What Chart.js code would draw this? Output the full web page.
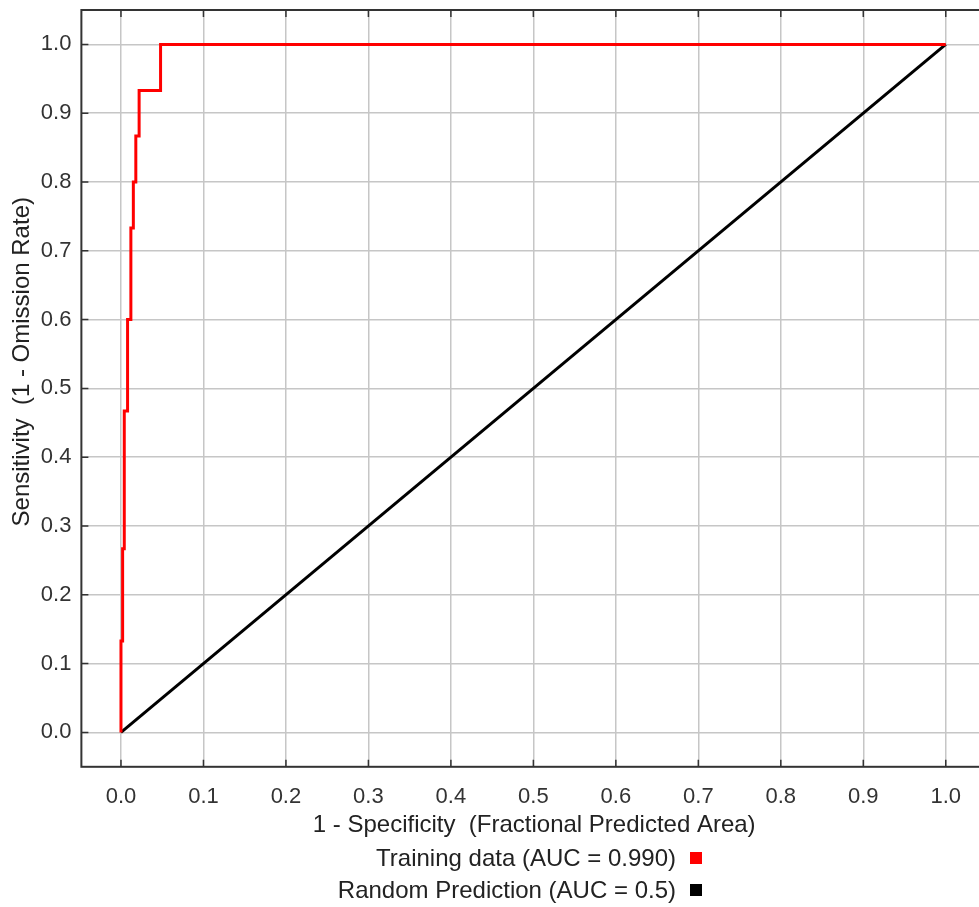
<!DOCTYPE html>
<html>
<head>
<meta charset="utf-8">
<script src="https://cdn.jsdelivr.net/npm/chart.js@4.4.1/dist/chart.umd.min.js"></script>
<style>
  html, body { margin: 0; padding: 0; background: #fff; overflow: hidden; }
  #wrap { position: relative; width: 990px; height: 907px; }
  #legend {
    position: absolute; right: 288px; top: 842px;
    font-family: "Liberation Sans", Arial, sans-serif; font-size: 24px; color: #222;
  }
  .row { display: flex; justify-content: flex-end; align-items: center; height: 32px; }
  .box { width: 12px; height: 12px; margin-left: 14px; }
</style>
</head>
<body>
<div id="wrap">
  <canvas id="roc" width="990" height="907"></canvas>
  <div id="legend"></div>
</div>
<script>
// Curva ROC del modelo (pasos) y referencia aleatoria
const fprTrain = [0, 0, 0.002, 0.004, 0.008, 0.012, 0.015, 0.018, 0.022, 0.048, 1];
const tprTrain = [0, 0.133, 0.267, 0.467, 0.6, 0.733, 0.8, 0.867, 0.933, 1, 1];
const fprRandom = [0, 1];
const tprRandom = [0, 1];

const xTicks = [0, 0.1, 0.2, 0.3, 0.4, 0.5, 0.6, 0.7, 0.8, 0.9, 1.0];
const yTicks = [0, 0.1, 0.2, 0.3, 0.4, 0.5, 0.6, 0.7, 0.8, 0.9, 1.0];

const seriesLabels = ["Training data (AUC = 0.990)", "Random Prediction (AUC = 0.5)"];
const seriesColors = ["#ff0000", "#000000"];

const tickFont = { family: '"Liberation Sans", Arial, sans-serif', size: 22 };
const titleFont = { family: '"Liberation Sans", Arial, sans-serif', size: 24 };

// marco del gráfico con marcas hacia dentro
const frame = {
  id: "frame",
  afterDraw(chart) {
    const { ctx, chartArea: a, scales } = chart;
    const len = 7;
    ctx.save();
    ctx.strokeStyle = "#333";
    ctx.lineWidth = 2;
    ctx.strokeRect(a.left, a.top, a.right - a.left, a.bottom - a.top);
    ctx.lineWidth = 1.5;
    ctx.beginPath();
    xTicks.forEach((v) => {
      const px = scales.x.getPixelForValue(v);
      ctx.moveTo(px, a.bottom);
      ctx.lineTo(px, a.bottom - len);
      ctx.moveTo(px, a.top);
      ctx.lineTo(px, a.top + len);
    });
    yTicks.forEach((v) => {
      const py = scales.y.getPixelForValue(v);
      ctx.moveTo(a.left, py);
      ctx.lineTo(a.left + len, py);
      ctx.moveTo(a.right, py);
      ctx.lineTo(a.right - len, py);
    });
    ctx.stroke();
    ctx.restore();
  },
};

const ctx = document.getElementById("roc").getContext("2d");

const chart = new Chart(ctx, {
  type: "line",
  data: {
    datasets: [
      {
        label: seriesLabels[0],
        data: fprTrain.map((x, i) => ({ x: x, y: tprTrain[i] })),
        borderColor: seriesColors[0],
        borderWidth: 3,
        stepped: "before",
        pointRadius: 0,
        fill: false,
      },
      {
        label: seriesLabels[1],
        data: fprRandom.map((x, i) => ({ x: x, y: tprRandom[i] })),
        borderColor: seriesColors[1],
        borderWidth: 3,
        pointRadius: 0,
        fill: false,
      },
    ],
  },
  options: {
    responsive: false,
    animation: false,
    layout: { padding: { top: 10, bottom: 67, left: 0, right: 3 } },
    plugins: {
      legend: { display: false },
      tooltip: { enabled: false },
    },
    scales: {
      x: {
        type: "linear",
        min: -0.048,
        max: 1.05,
        afterBuildTicks: (s) => { s.ticks = xTicks.map((v) => ({ value: v })); },
        afterFit: (s) => { s.paddingLeft = 0; s.paddingRight = 0; },
        grid: { color: "#c6c6c6", lineWidth: 1.5, drawTicks: false },
        border: { display: false },
        ticks: {
          color: "#333",
          font: tickFont,
          padding: 17,
          maxRotation: 0,
          callback: (v) => Number(v).toFixed(1),
        },
        title: {
          display: true,
          text: "1 - Specificity  (Fractional Predicted Area)",
          color: "#222",
          font: titleFont,
          padding: { top: -16, bottom: 0 },
        },
      },
      y: {
        type: "linear",
        min: -0.05,
        max: 1.05,
        afterBuildTicks: (s) => { s.ticks = yTicks.map((v) => ({ value: v })); },
        afterFit: (s) => { s.paddingTop = 0; s.paddingBottom = 0; },
        grid: { color: "#c6c6c6", lineWidth: 1.5, drawTicks: false },
        border: { display: false },
        ticks: {
          color: "#333",
          font: tickFont,
          padding: 10,
          callback: (v) => Number(v).toFixed(1),
        },
        title: {
          display: true,
          text: "        Sensitivity  (1 - Omission Rate)",
          color: "#222",
          font: titleFont,
          padding: { top: 8, bottom: -6 },
        },
      },
    },
  },
  plugins: [frame],
});

// leyenda en HTML, texto a la izquierda y cuadro de color a la derecha
const legend = document.getElementById("legend");
chart.data.datasets.forEach((ds) => {
  const row = document.createElement("div");
  row.className = "row";
  const txt = document.createElement("span");
  txt.textContent = ds.label;
  const box = document.createElement("span");
  box.className = "box";
  box.style.background = ds.borderColor;
  row.appendChild(txt);
  row.appendChild(box);
  legend.appendChild(row);
});
</script>
</body>
</html>
